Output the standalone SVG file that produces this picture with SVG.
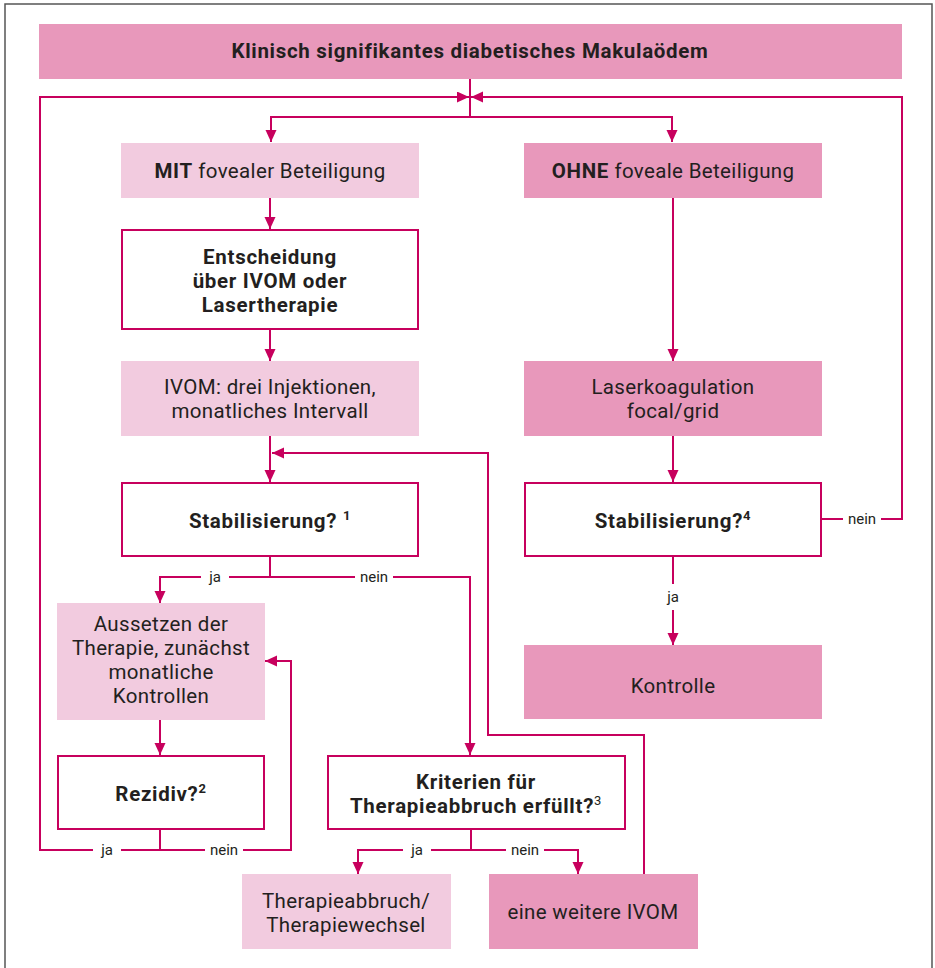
<svg xmlns="http://www.w3.org/2000/svg" width="935" height="968" viewBox="0 0 935 968">
<style>
text{font-family:Roboto,"Open Sans","Liberation Sans",sans-serif;fill:#231f20;text-anchor:middle}
.t{font-size:20.5px;letter-spacing:0.35px}
.b{font-weight:bold;letter-spacing:0.7px}
.lbl{font-size:15px}
.dark{fill:#e898bb}
.light{fill:#f2cbdf}
.white{fill:#ffffff;stroke:#c7005d;stroke-width:2}
.c{fill:none;stroke:#c7005d;stroke-width:2}
.gap{fill:#ffffff}
</style>
<defs>
<marker id="ah" markerUnits="userSpaceOnUse" markerWidth="12" markerHeight="12" refX="12" refY="5.5" orient="auto">
<path d="M0,0 L12,5.5 L0,11 z" fill="#c7005d"/>
</marker>
</defs>
<rect width="935" height="968" fill="#ffffff"/>
<path d="M5,968 V4 H932 V968" fill="none" stroke="#555555" stroke-width="1.5"/>

<g id="connectors">
<path class="c" d="M470,79 V117"/>
<path class="c" d="M470,117 H271 V142" marker-end="url(#ah)"/>
<path class="c" d="M470,117 H672 V142" marker-end="url(#ah)"/>
<path class="c" d="M160,850 H40 V97 H469" marker-end="url(#ah)"/>
<path class="c" d="M822,519 H902 V97 H471" marker-end="url(#ah)"/>
<path class="c" d="M270,198 V229" marker-end="url(#ah)"/>
<path class="c" d="M270,330 V361" marker-end="url(#ah)"/>
<path class="c" d="M270,436 V482" marker-end="url(#ah)"/>
<path class="c" d="M270,557 V577 H160 V603" marker-end="url(#ah)"/>
<path class="c" d="M270,577 H470 V755" marker-end="url(#ah)"/>
<path class="c" d="M160,720 V755" marker-end="url(#ah)"/>
<path class="c" d="M160,830 V850 H291 V661 H265" marker-end="url(#ah)"/>
<path class="c" d="M471,830 V850 H358 V874" marker-end="url(#ah)"/>
<path class="c" d="M471,850 H578 V874" marker-end="url(#ah)"/>
<path class="c" d="M644,874 V735 H488 V453 H272" marker-end="url(#ah)"/>
<path class="c" d="M673,198 V361" marker-end="url(#ah)"/>
<path class="c" d="M673,436 V482" marker-end="url(#ah)"/>
<path class="c" d="M673,557 V645" marker-end="url(#ah)"/>
<rect class="gap" x="201" y="570" width="28" height="14"/>
<text class="lbl" x="215" y="582">ja</text>
<rect class="gap" x="355" y="570" width="38" height="14"/>
<text class="lbl" x="374" y="582">nein</text>
<rect class="gap" x="93" y="843" width="28" height="14"/>
<text class="lbl" x="107" y="855">ja</text>
<rect class="gap" x="205" y="843" width="38" height="14"/>
<text class="lbl" x="224" y="855">nein</text>
<rect class="gap" x="403" y="843" width="28" height="14"/>
<text class="lbl" x="417" y="855">ja</text>
<rect class="gap" x="506" y="843" width="38" height="14"/>
<text class="lbl" x="525" y="855">nein</text>
<rect class="gap" x="843" y="512" width="38" height="14"/>
<text class="lbl" x="862" y="524">nein</text>
<rect class="gap" x="664" y="584" width="18" height="26"/>
<text class="lbl" x="673" y="602">ja</text>
</g>

<g id="n_title">
<rect class="dark" x="39" y="24" width="863" height="55"/>
<text class="t b" x="470" y="58" font-size="21px" letter-spacing="0.75px">Klinisch signifikantes diabetisches Makulaödem</text>
</g>
<g id="n_mit">
<rect class="light" x="121" y="143" width="298" height="55"/>
<text class="t" x="270" y="178"><tspan class="b">MIT</tspan> fovealer Beteiligung</text>
</g>
<g id="n_ohne">
<rect class="dark" x="524" y="143" width="298" height="55"/>
<text class="t" x="673" y="178"><tspan class="b">OHNE</tspan> foveale Beteiligung</text>
</g>
<g id="n_entscheidung">
<rect class="white" x="122" y="230" width="296" height="99"/>
<text class="t b" x="270" y="264">Entscheidung</text>
<text class="t b" x="270" y="288">über IVOM oder</text>
<text class="t b" x="270" y="312">Lasertherapie</text>
</g>
<g id="n_ivom">
<rect class="light" x="121" y="361" width="298" height="75"/>
<text class="t" x="270" y="394">IVOM: drei Injektionen,</text>
<text class="t" x="270" y="418">monatliches Intervall</text>
</g>
<g id="n_laser">
<rect class="dark" x="524" y="361" width="298" height="75"/>
<text class="t" x="673" y="394">Laserkoagulation</text>
<text class="t" x="673" y="418">focal/grid</text>
</g>
<g id="n_stab1">
<rect class="white" x="122" y="483" width="296" height="73"/>
<text class="t b" x="270" y="528">Stabilisierung? <tspan font-size="13" dy="-8">1</tspan></text>
</g>
<g id="n_stab4">
<rect class="white" x="525" y="483" width="296" height="73"/>
<text class="t b" x="673" y="528">Stabilisierung?<tspan font-size="13" dy="-8">4</tspan></text>
</g>
<g id="n_kontrolle">
<rect class="dark" x="524" y="645" width="298" height="74"/>
<text class="t" x="673" y="693">Kontrolle</text>
</g>
<g id="n_aussetzen">
<rect class="light" x="57" y="603" width="208" height="117"/>
<text class="t" x="161" y="631">Aussetzen der</text>
<text class="t" x="161" y="655">Therapie, zunächst</text>
<text class="t" x="161" y="679">monatliche</text>
<text class="t" x="161" y="703">Kontrollen</text>
</g>
<g id="n_rezidiv">
<rect class="white" x="58" y="756" width="206" height="73"/>
<text class="t b" x="161" y="801">Rezidiv?<tspan font-size="13" dy="-8">2</tspan></text>
</g>
<g id="n_kriterien">
<rect class="white" x="328" y="756" width="297" height="73"/>
<text class="t b" x="476" y="789">Kriterien für</text>
<text class="t b" x="476" y="813">Therapieabbruch erfüllt?<tspan font-size="13" font-weight="normal" dy="-8">3</tspan></text>
</g>
<g id="n_abbruch">
<rect class="light" x="242" y="874" width="209" height="75"/>
<text class="t" x="346" y="908">Therapieabbruch/</text>
<text class="t" x="346" y="932">Therapiewechsel</text>
</g>
<g id="n_weitere">
<rect class="dark" x="489" y="874" width="209" height="75"/>
<text class="t" x="593" y="919">eine weitere IVOM</text>
</g>
</svg>
